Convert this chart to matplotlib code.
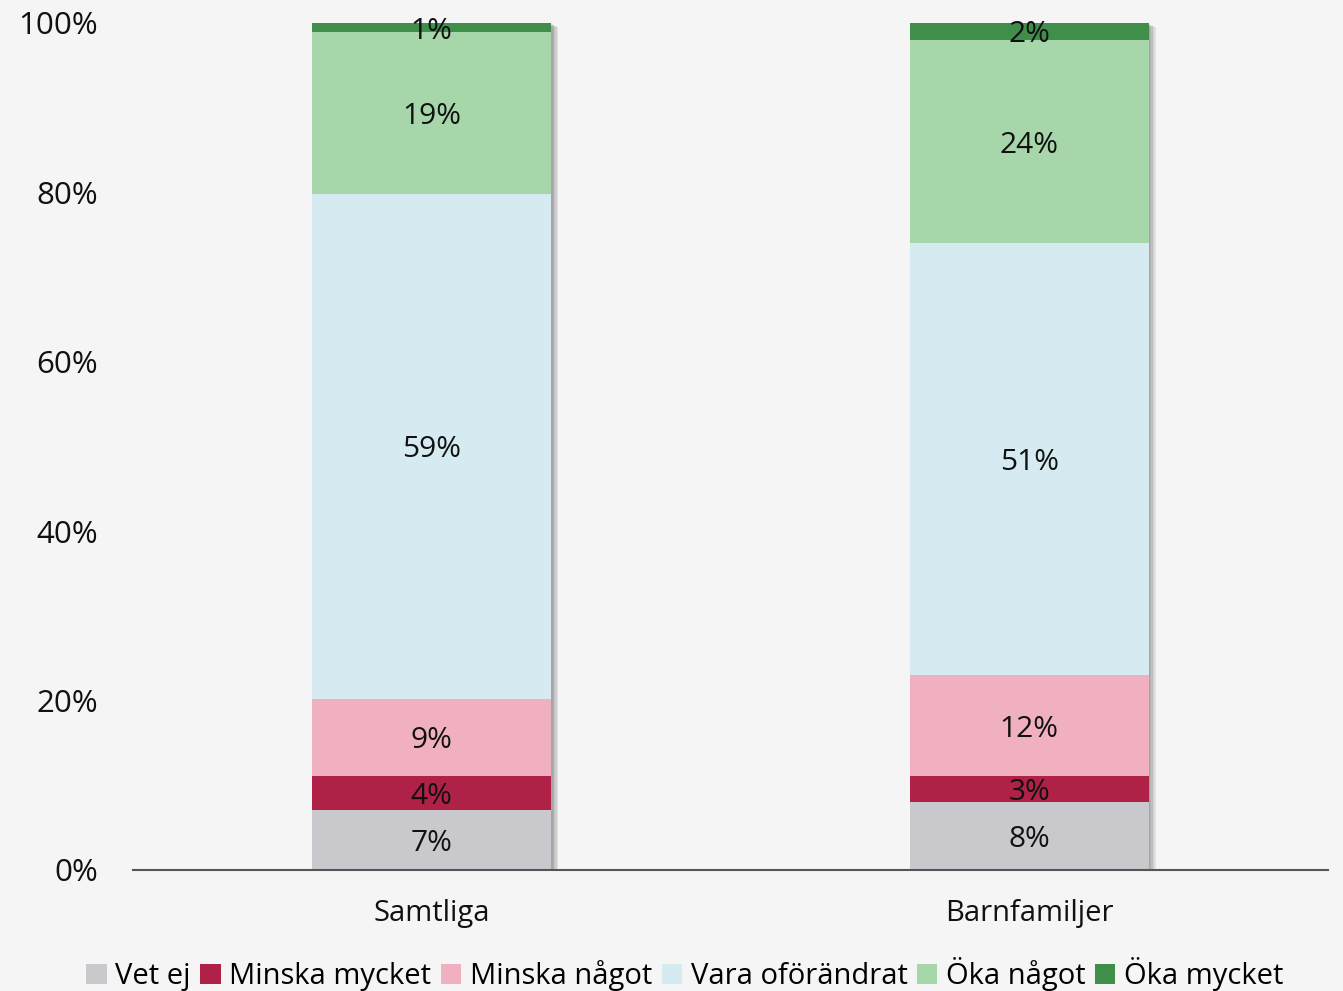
import matplotlib
matplotlib.use("Agg")
import matplotlib.pyplot as plt
import matplotlib.patheffects as pe
import numpy as np

plt.rcParams['font.family'] = ['Open Sans', 'DejaVu Sans']

categories = ['Samtliga', 'Barnfamiljer']
series = ['Vet ej', 'Minska mycket', 'Minska något', 'Vara oförändrat', 'Öka något', 'Öka mycket']
# shares in percent, bottom to top
values = {
    'Vet ej':          [7.1, 8.0],
    'Minska mycket':   [4.0, 3.1],
    'Minska något':    [9.1, 11.9],
    'Vara oförändrat': [59.6, 51.0],
    'Öka något':       [19.1, 24.0],
    'Öka mycket':      [1.1, 2.0],
}
labels = {
    'Vet ej':          ['7%', '8%'],
    'Minska mycket':   ['4%', '3%'],
    'Minska något':    ['9%', '12%'],
    'Vara oförändrat': ['59%', '51%'],
    'Öka något':       ['19%', '24%'],
    'Öka mycket':      ['1%', '2%'],
}
colors = ['#c9c9cd', '#b02148', '#f0b0c0', '#d5ebf1', '#a6d6aa', '#3f8e4a']

bg = '#f5f5f5'
fig = plt.figure(figsize=(13.43, 9.91), dpi=100, facecolor=bg)
ax = fig.add_axes([0.099, 0.1221, 0.8898, 0.8547], facecolor=bg)

x = np.arange(len(categories))
totals = np.sum([values[s] for s in series], axis=0)

# soft shadow behind the whole stack
shadow = [pe.SimplePatchShadow(offset=(o, -o * 0.6), shadow_rgbFace='#555555', alpha=0.12) for o in (1, 2, 3, 4, 5)]
back = ax.bar(x, totals, 0.4, color=bg, zorder=1, linewidth=0)
for b in back:
    b.set_path_effects(shadow + [pe.Normal()])

bottom = np.zeros(len(categories))
for s, c in zip(series, colors):
    v = np.array(values[s])
    ax.bar(x, v, 0.4, bottom=bottom, color=c, label=s, zorder=2, linewidth=0)
    for xi, bi, vi, lab in zip(x, bottom, v, labels[s]):
        ax.text(xi, bi + vi / 2, lab, ha='center', va='center_baseline', fontsize=21.5, color='#111111', zorder=4)
    bottom += v

ax.set_xlim(-0.5, 1.5)
ax.set_ylim(0, 100)
ax.set_yticks(np.arange(0, 101, 20))
ax.set_yticklabels([f'{t}%' for t in range(0, 101, 20)])
ax.set_xticks(x)
ax.set_xticklabels(categories)
ax.tick_params(axis='both', length=0, colors='#111111')
ax.tick_params(axis='x', pad=21, labelsize=21)
ax.tick_params(axis='y', pad=25, labelsize=22.5)
for sp in ['top', 'right', 'left']:
    ax.spines[sp].set_visible(False)
ax.spines['bottom'].set_color('#555555')
ax.spines['bottom'].set_linewidth(1.5)
ax.spines['bottom'].set_zorder(5)

handles, leg_labels = ax.get_legend_handles_labels()
fig.legend(handles, leg_labels, loc='center', bbox_to_anchor=(0.510, 0.017), ncol=6, frameon=False,
           fontsize=21, handlelength=0.7, handleheight=0.7, handletextpad=0.3, columnspacing=0.32,
           borderaxespad=0)

fig.savefig('out.png', dpi=100, facecolor=bg)
